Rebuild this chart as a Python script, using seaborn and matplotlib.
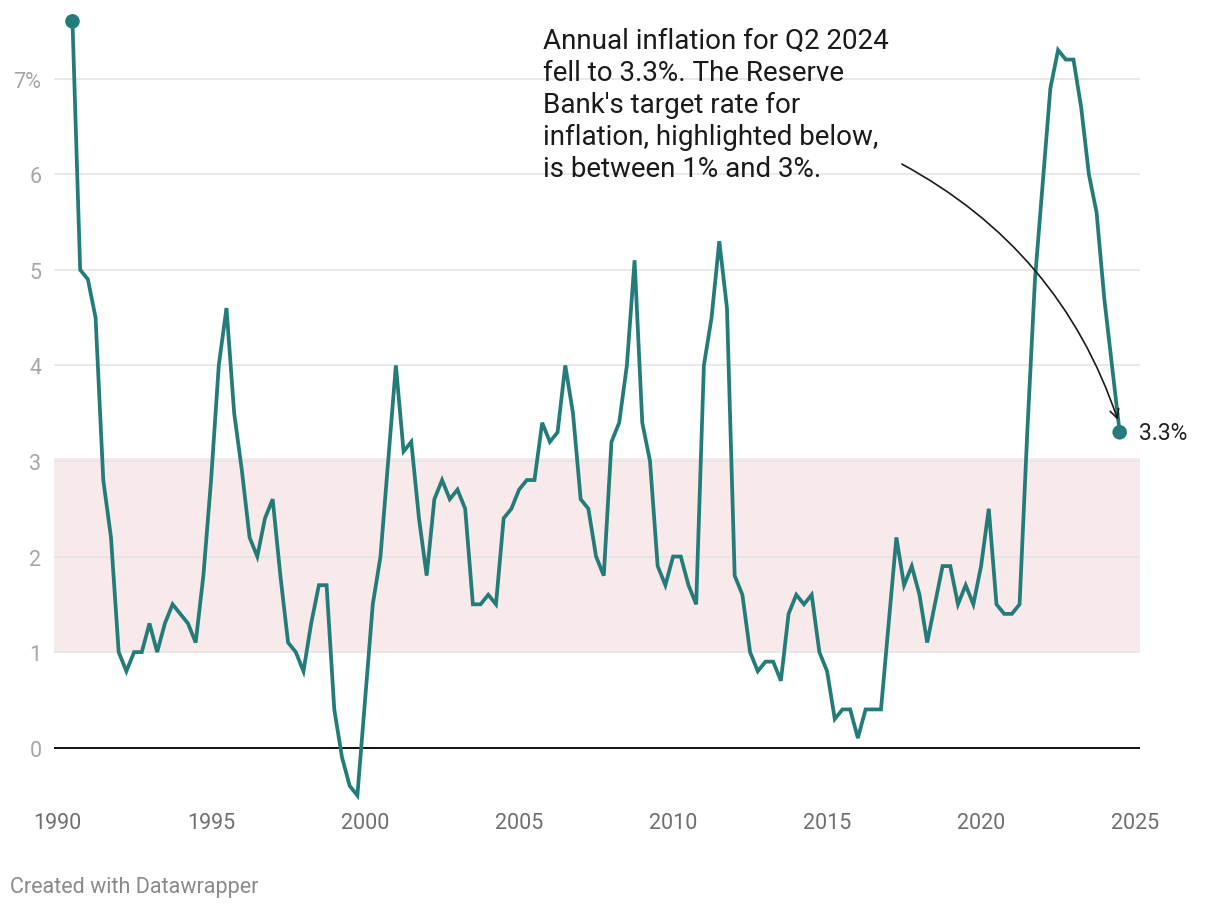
import numpy as np
import pandas as pd
import matplotlib
matplotlib.use("Agg")
import matplotlib.pyplot as plt
import seaborn as sns

# Annual CPI inflation (%), quarterly, Q2 1990 - Q2 2024
quarters = pd.period_range("1990Q2", "2024Q2", freq="Q")
inflation = [
    7.6, 5.0, 4.9, 4.5, 2.8, 2.2, 1.0, 0.8, 1.0, 1.0, 1.3, 1.0, 1.3, 1.5, 1.4, 1.3,
    1.1, 1.8, 2.8, 4.0, 4.6, 3.5, 2.9, 2.2, 2.0, 2.4, 2.6, 1.8, 1.1, 1.0, 0.8, 1.3,
    1.7, 1.7, 0.4, -0.1, -0.4, -0.5, 0.5, 1.5, 2.0, 3.0, 4.0, 3.1, 3.2, 2.4, 1.8, 2.6,
    2.8, 2.6, 2.7, 2.5, 1.5, 1.5, 1.6, 1.5, 2.4, 2.5, 2.7, 2.8, 2.8, 3.4, 3.2, 3.3,
    4.0, 3.5, 2.6, 2.5, 2.0, 1.8, 3.2, 3.4, 4.0, 5.1, 3.4, 3.0, 1.9, 1.7, 2.0, 2.0,
    1.7, 1.5, 4.0, 4.5, 5.3, 4.6, 1.8, 1.6, 1.0, 0.8, 0.9, 0.9, 0.7, 1.4, 1.6, 1.5,
    1.6, 1.0, 0.8, 0.3, 0.4, 0.4, 0.1, 0.4, 0.4, 0.4, 1.3, 2.2, 1.7, 1.9, 1.6, 1.1,
    1.5, 1.9, 1.9, 1.5, 1.7, 1.5, 1.9, 2.5, 1.5, 1.4, 1.4, 1.5, 3.3, 4.9, 5.9, 6.9,
    7.3, 7.2, 7.2, 6.7, 6.0, 5.6, 4.7, 4.0, 3.3,
]
target_band = (1, 3)
y_ticks = [0, 1, 2, 3, 4, 5, 6, 7]
y_tick_labels = ["0", "1", "2", "3", "4", "5", "6", "7%"]
x_ticks = [1990, 1995, 2000, 2005, 2010, 2015, 2020, 2025]

note = ("Annual inflation for Q2 2024\nfell to 3.3%. The Reserve\n"
        "Bank's target rate for\ninflation, highlighted below,\n"
        "is between 1% and 3%.")

df = pd.DataFrame({
    "year": quarters.year + quarters.quarter * 0.25,
    "inflation": inflation,
})

LINE = "#237c79"

sns.set_theme(style="white")
plt.rcParams["font.family"] = ["Roboto", "DejaVu Sans"]

W, H = 1220, 912
fig = plt.figure(figsize=(W / 100, H / 100), dpi=100)
ax = fig.add_axes([54 / W, 1 - 806 / H, 1086 / W, (806 - 8) / H])

# target band and grid
ax.axhspan(target_band[0], target_band[1] + 0.03, color="#f8e9ea", zorder=0, lw=0)
for t in y_ticks[1:]:
    ax.axhline(t, color="#e3e3e3", lw=1.1, zorder=1)
ax.axhline(0, color="#111111", lw=1.4, zorder=2)

sns.lineplot(data=df, x="year", y="inflation", ax=ax, color=LINE,
             lw=2.7, zorder=3, solid_joinstyle="miter")
ends = df.iloc[[0, -1]]
sns.scatterplot(data=ends, x="year", y="inflation", ax=ax, color=LINE,
                s=110, edgecolor="none", zorder=4)

ax.set_xlim(1989.9, 2025.16)
ax.set_ylim(-0.6, 7.75)
ax.set_xticks(x_ticks)
ax.set_xticklabels([str(x) for x in x_ticks], fontsize=15.5, color="#6f6f6f")
ax.set_yticks(y_ticks)
ax.set_yticklabels(y_tick_labels, fontsize=15.5, color="#a6a6a6")
ax.tick_params(axis="both", length=0)
ax.tick_params(axis="x", pad=5)
ax.tick_params(axis="y", pad=9)
ax.set_xlabel("")
ax.set_ylabel("")
for s in ax.spines.values():
    s.set_visible(False)

# last value label
last = df.iloc[-1]
ax.annotate(f"{last['inflation']:.1f}%", (last["year"], last["inflation"]),
            xytext=(14, 0), textcoords="offset points", va="center",
            fontsize=16.5, color="#222222")

# annotation text and arrow
fig.text(543 / W, 1 - 28 / H, note, fontsize=20, color="#1a1a1a",
         va="top", ha="left", linespacing=1.24)
ax.annotate("", xy=(2024.47, 3.4), xytext=(2017.35, 6.12),
            arrowprops=dict(arrowstyle="->", color="#1a1a1a", lw=1.2,
                            connectionstyle="arc3,rad=-0.2",
                            mutation_scale=16))

fig.text(10 / W, 1 - 888 / H, "Created with Datawrapper", fontsize=15.5,
         color="#8a8a8a", va="center", ha="left")

fig.savefig("out.png", dpi=100)
